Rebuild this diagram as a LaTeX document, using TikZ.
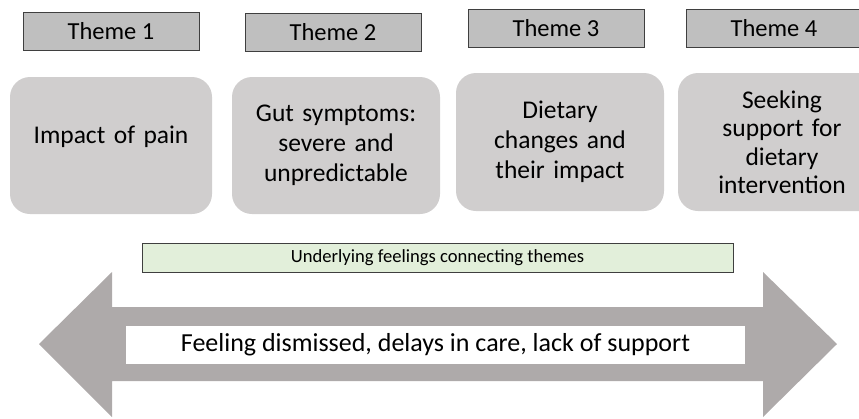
\documentclass[tikz,border=0pt]{standalone}
\usepackage{fontspec}
\setmainfont{Carlito}
\usepackage{tikz}

\definecolor{themegray}{HTML}{BFBFBF}
\definecolor{boxgray}{HTML}{D0CECE}
\definecolor{feelgreen}{HTML}{E2EFDA}
\definecolor{arrowgray}{HTML}{AEAAAA}
\definecolor{edgegray}{HTML}{3F3F3F}

\tikzset{
  theme/.style={draw=edgegray, fill=themegray, minimum width=176pt, minimum height=38pt,
    inner sep=0pt, font=\fontsize{24.5}{29}\selectfont},
  topic/.style={fill=boxgray, rounded corners=20pt, minimum width=208pt, minimum height=138pt,
    text width=190pt, align=center, inner sep=0pt, font=\fontsize{25.5}{30}\selectfont}
}

\begin{document}
\begin{tikzpicture}[x=1pt, y=-1pt]
  \useasboundingbox (0,0) rectangle (859,418);

  % theme headers
  \node[theme] (T1) at (111,31.5) {Theme 1};
  \node[theme] (T2) at (333,32) {Theme 2};
  \node[theme] (T3) at (556,28.5) {Theme 3};
  \node[theme] (T4) at (774,28) {Theme 4};

  % theme contents
  \node[topic, minimum width=202pt, minimum height=137pt] (pain) at (111,145.5)
    {\raisebox{9pt}[\height][\depth]{Impact of pain}};
  \node[topic, minimum height=137pt] (gut) at (336,145.5) {Gut symptoms:\\ severe and\\ unpredictable};
  \node[topic] (diet) at (560,142) {Dietary\\ changes and\\ their impact};
  \node[topic, font=\fontsize{25.5}{28.5}\selectfont] (support) at (782,142)
    {Seeking\\ support for\\ dietary\\ intervention};

  % underlying feelings
  \node[draw=edgegray, fill=feelgreen, minimum width=591pt, minimum height=29pt, inner sep=0pt,
    font=\fontsize{18.6}{22}\selectfont] (under) at (437.5,257.5) {Underlying feelings connecting themes};

  \fill[arrowgray] (39,344) -- (112,272) -- (112,307) -- (763,307) -- (763,272) -- (837,344)
    -- (763,417) -- (763,381) -- (112,381) -- (112,417) -- cycle;
  \node[fill=white, minimum width=619pt, minimum height=38pt, inner sep=0pt,
    font=\fontsize{26}{30}\selectfont] (dismissed) at (435.5,345)
    {Feeling dismissed, delays in care, lack of support};
\end{tikzpicture}
\end{document}
